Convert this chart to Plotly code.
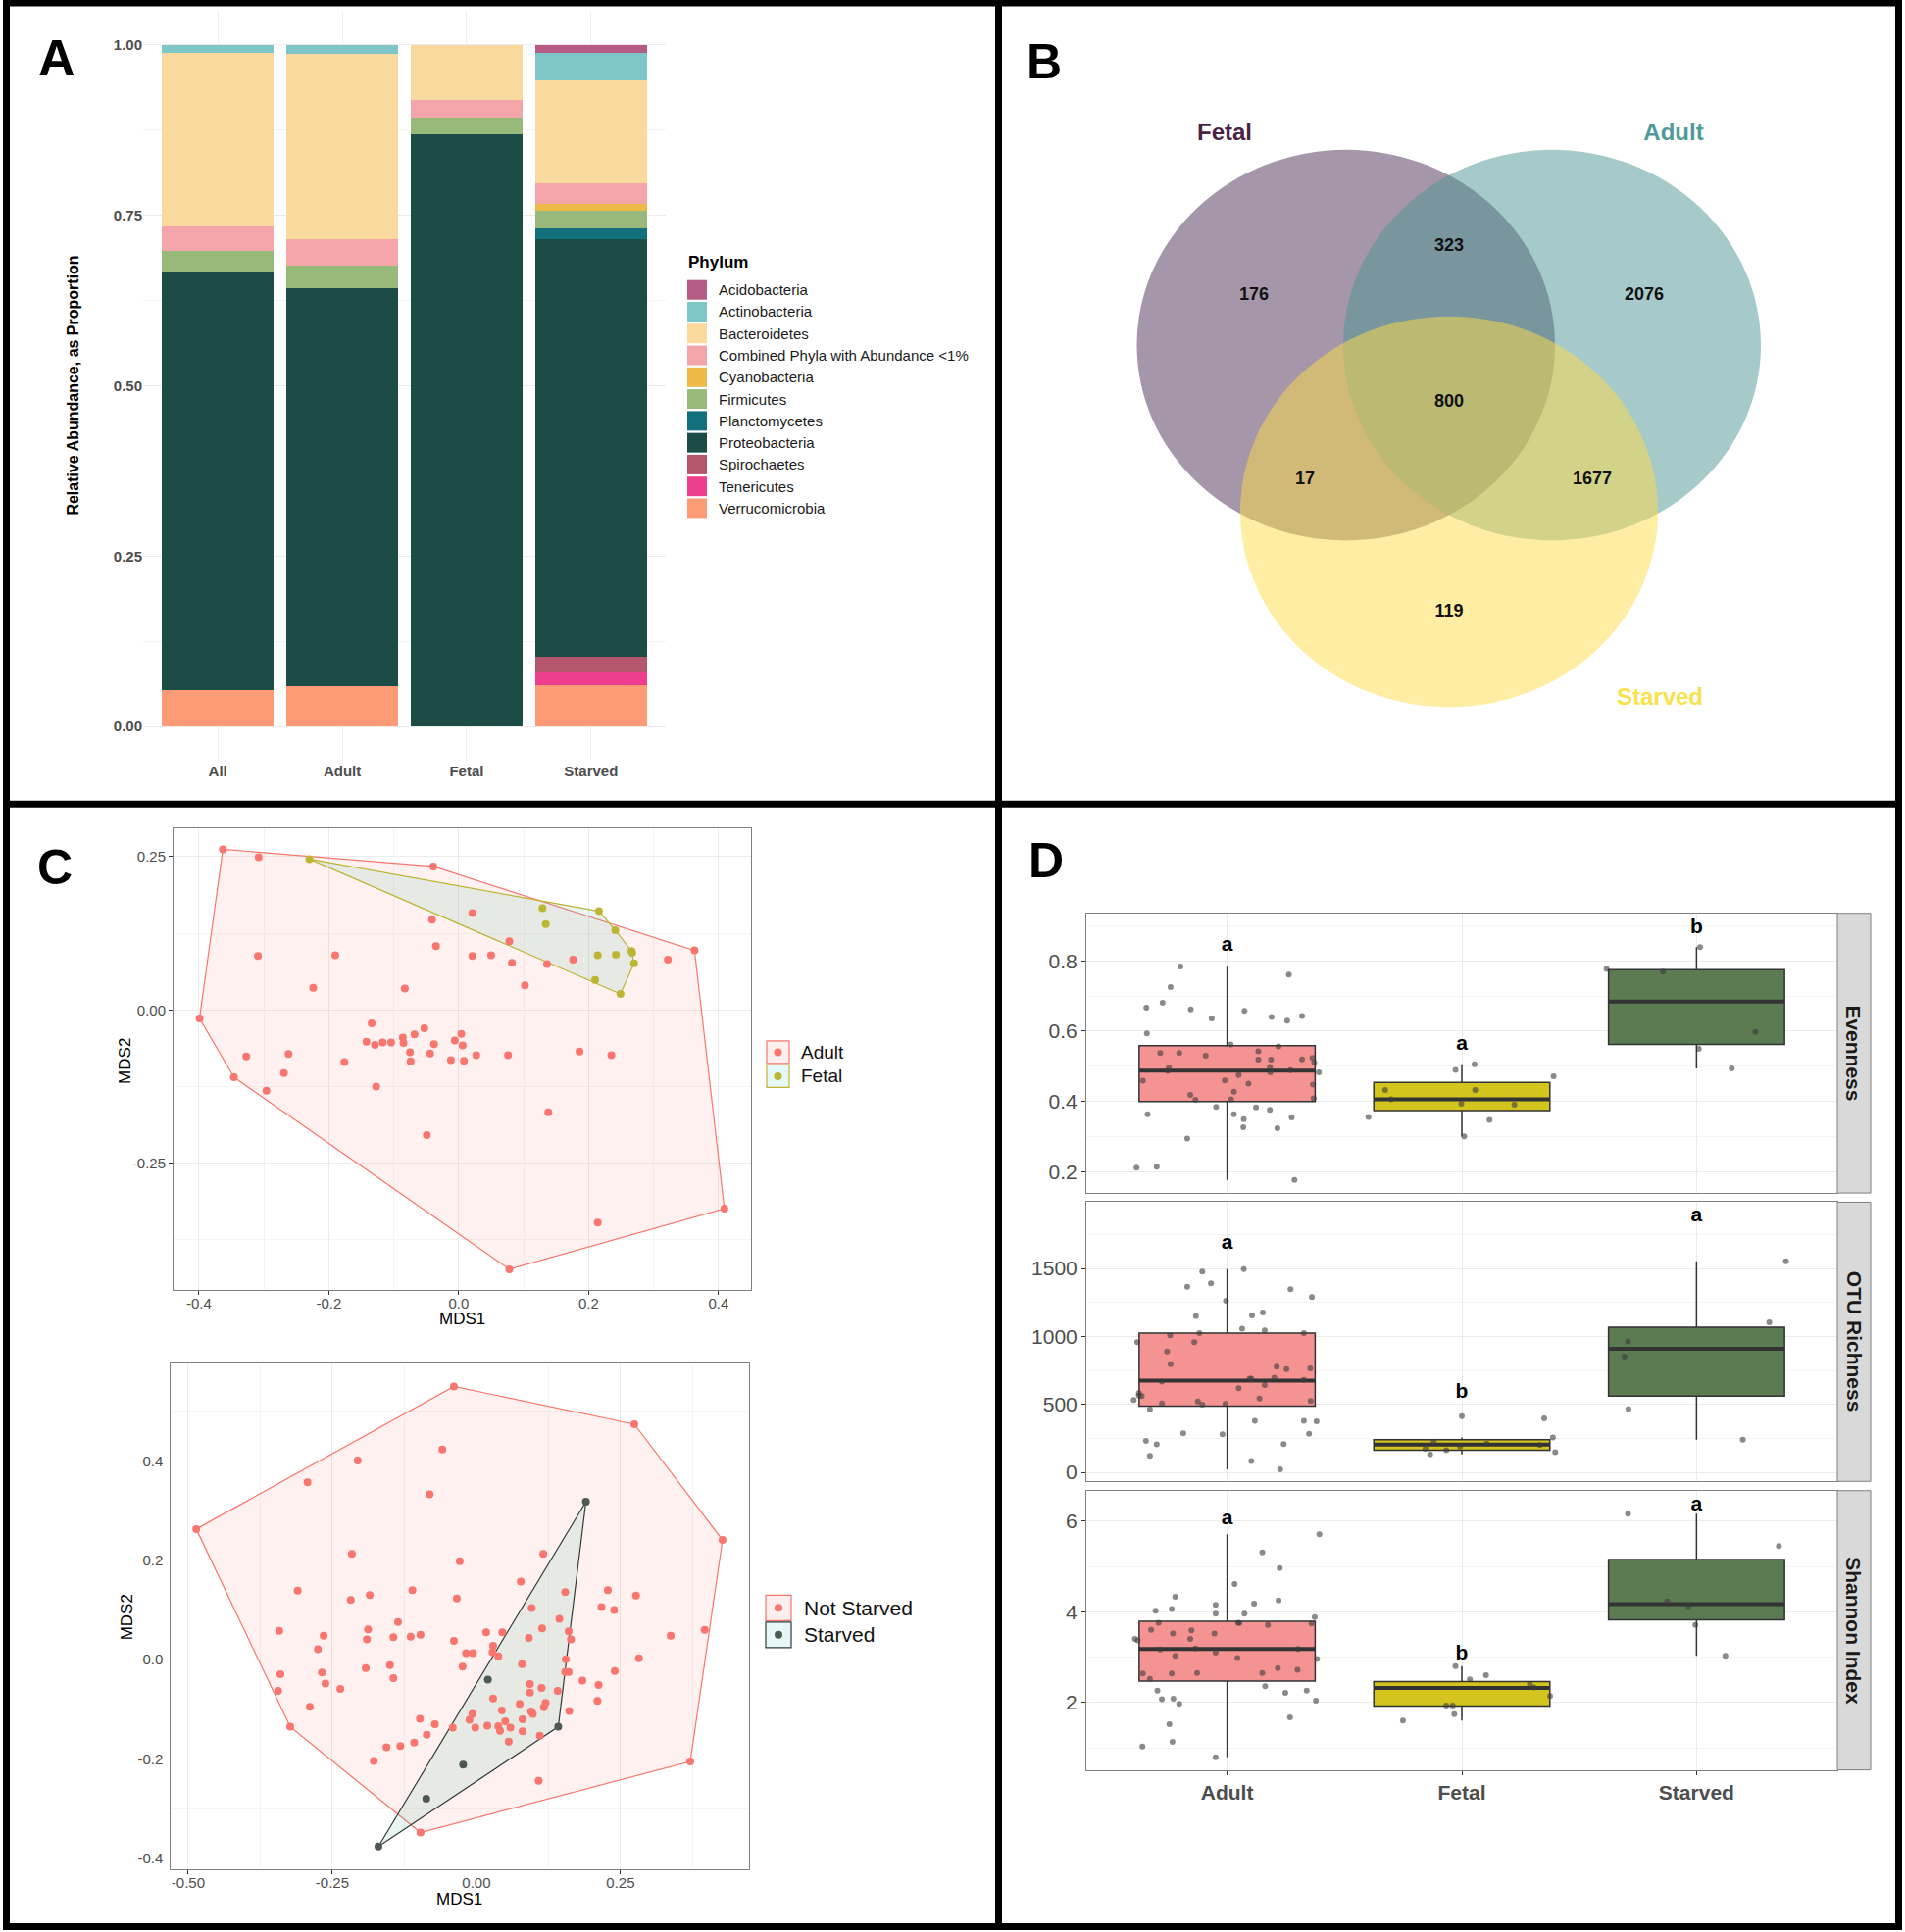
import plotly.graph_objects as go

W, H = 1943, 1971
FONT = "Liberation Sans, Arial, sans-serif"

# ---------------- Panel A: relative abundance by phylum ----------------
groups_a = ["All", "Adult", "Fetal", "Starved"]
phyla = ["Acidobacteria", "Actinobacteria", "Bacteroidetes",
         "Combined Phyla with Abundance <1%", "Cyanobacteria", "Firmicutes",
         "Planctomycetes", "Proteobacteria", "Spirochaetes", "Tenericutes",
         "Verrucomicrobia"]
acidobacteria = [0, 0, 0, 0.012]
actinobacteria = [0.012, 0.013, 0, 0.040]
bacteroidetes = [0.254, 0.272, 0.081, 0.151]
combined_lt1 = [0.036, 0.039, 0.026, 0.030]
cyanobacteria = [0, 0, 0, 0.010]
firmicutes = [0.032, 0.033, 0.024, 0.026]
planctomycetes = [0, 0, 0, 0.016]
proteobacteria = [0.612, 0.583, 0.869, 0.613]
spirochaetes = [0, 0, 0, 0.022]
tenericutes = [0, 0, 0, 0.019]
verrucomicrobia = [0.054, 0.060, 0, 0.061]
phylum_colors = ["#B55B84", "#7FC6C9", "#F9D99E", "#F4A5A9", "#EDBA47", "#97BA7B",
                 "#12707C", "#1B4D46", "#B5566C", "#F03E8E", "#FD9B77"]
abundance = [acidobacteria, actinobacteria, bacteroidetes, combined_lt1, cyanobacteria,
             firmicutes, planctomycetes, proteobacteria, spirochaetes, tenericutes,
             verrucomicrobia]

# ---------------- Panel B: Venn counts ----------------
venn_sets = ["Fetal", "Adult", "Starved"]
venn_set_colors = ["#4A2245", "#4E9A97", "#F8E14C"]
venn_fill = ["#4B2F53", "#4D9595", "#FDDB45"]
venn_counts = [176, 323, 2076, 800, 17, 1677, 119]

# ---------------- Panel C: NMDS ordinations (MDS1, MDS2) ----------------
adult_nmds = [(-0.363, 0.262), (-0.308, 0.249), (-0.039, 0.234), (0.021, 0.158), (-0.041, 0.147),
              (-0.035, 0.104), (0.078, 0.112), (0.363, 0.097), (-0.309, 0.088), (-0.190, 0.089),
              (0.021, 0.088), (0.050, 0.089), (0.082, 0.077), (0.136, 0.075), (0.176, 0.082),
              (0.322, 0.082), (-0.224, 0.036), (-0.083, 0.035), (0.102, 0.040), (-0.399, -0.014),
              (-0.134, -0.022), (-0.053, -0.030), (-0.068, -0.040), (0.004, -0.039), (-0.086, -0.045),
              (-0.142, -0.052), (-0.117, -0.053), (-0.104, -0.053), (-0.129, -0.057), (-0.085, -0.054),
              (-0.006, -0.050), (-0.038, -0.056), (0.006, -0.058), (-0.075, -0.069), (-0.044, -0.071),
              (0.027, -0.074), (0.076, -0.074), (0.186, -0.068), (0.235, -0.074), (-0.327, -0.076),
              (-0.262, -0.072), (-0.176, -0.085), (-0.074, -0.084), (-0.012, -0.082), (0.008, -0.083),
              (-0.269, -0.103), (-0.346, -0.110), (-0.296, -0.132), (-0.127, -0.125), (0.138, -0.167),
              (-0.049, -0.204), (0.409, -0.324), (0.214, -0.347), (0.078, -0.423)]
fetal_nmds = [(-0.230, 0.246), (0.129, 0.166), (0.216, 0.161), (0.134, 0.140), (0.241, 0.130),
              (0.214, 0.089), (0.242, 0.090), (0.266, 0.096), (0.267, 0.093), (0.270, 0.076),
              (0.210, 0.049), (0.249, 0.026)]
not_starved_nmds = [
    (-0.039, 0.550), (0.274, 0.474), (0.427, 0.241), (0.371, -0.205), (-0.097, -0.348),
    (-0.323, -0.135), (-0.486, 0.263), (-0.059, 0.423), (-0.206, 0.401), (-0.293, 0.357),
    (-0.081, 0.333), (-0.216, 0.213), (0.116, 0.213), (-0.029, 0.198), (0.077, 0.157),
    (-0.310, 0.139), (-0.111, 0.140), (0.154, 0.136), (0.228, 0.140), (-0.185, 0.130),
    (-0.218, 0.120), (-0.034, 0.123), (0.277, 0.129), (0.096, 0.104), (0.217, 0.106),
    (0.239, 0.100), (-0.136, 0.076), (0.144, 0.082), (-0.342, 0.058), (-0.188, 0.061),
    (-0.097, 0.050), (0.017, 0.055), (0.045, 0.055), (0.114, 0.063), (0.160, 0.057),
    (0.396, 0.060), (-0.265, 0.048), (-0.190, 0.041), (-0.144, 0.045), (-0.114, 0.046),
    (-0.039, 0.038), (0.091, 0.044), (0.164, 0.041), (0.337, 0.048), (0.029, 0.028),
    (-0.275, 0.021), (-0.018, 0.013), (-0.006, 0.013), (0.028, 0.015), (0.038, 0.007),
    (0.282, 0.003), (0.155, 0.001), (-0.150, -0.011), (-0.024, -0.014), (0.079, -0.009),
    (-0.340, -0.029), (-0.268, -0.026), (-0.192, -0.017), (0.154, -0.025), (0.160, -0.025),
    (0.240, -0.023), (-0.144, -0.037), (-0.262, -0.048), (0.093, -0.049), (0.184, -0.042),
    (0.212, -0.051), (-0.344, -0.063), (-0.236, -0.059), (0.113, -0.057), (0.141, -0.063),
    (0.093, -0.066), (0.029, -0.078), (0.210, -0.083), (0.075, -0.089), (0.120, -0.087),
    (-0.289, -0.095), (0.117, -0.096), (0.044, -0.102), (0.095, -0.104), (0.161, -0.103),
    (0.098, -0.109), (-0.007, -0.109), (-0.012, -0.121), (0.080, -0.120), (-0.098, -0.119),
    (0.050, -0.124), (-0.072, -0.130), (0.019, -0.133), (-0.041, -0.137), (-0.002, -0.137),
    (0.038, -0.134), (0.059, -0.137), (0.041, -0.143), (0.080, -0.144), (-0.086, -0.151),
    (0.110, -0.153), (0.056, -0.165), (-0.108, -0.167), (-0.132, -0.174), (-0.156, -0.176),
    (-0.178, -0.204), (0.108, -0.244)]
starved_nmds = [(0.190, 0.318), (0.142, -0.135), (0.020, -0.040), (-0.023, -0.211),
                (-0.087, -0.280), (-0.170, -0.376)]

# ---------------- Panel D: alpha diversity (jittered x, value) ----------------
groups_d = ["Adult", "Fetal", "Starved"]
box_colors = ["#F49392", "#D3C51D", "#5B7B53"]

evenness_adult = [(0.801, 0.784), (0.759, 0.725), (0.656, 0.667), (0.725, 0.681), (0.845, 0.662),
                  (0.658, 0.594), (0.934, 0.636), (1.074, 0.658), (1.263, 0.761), (1.189, 0.640),
                  (1.256, 0.630), (1.319, 0.643), (1.015, 0.562), (1.219, 0.557), (0.715, 0.538),
                  (0.796, 0.538), (0.909, 0.530), (1.133, 0.543), (1.133, 0.519), (1.187, 0.519),
                  (1.319, 0.520), (1.364, 0.524), (1.371, 0.511), (0.752, 0.497), (0.747, 0.487),
                  (1.182, 0.498), (1.184, 0.483), (1.270, 0.489), (1.391, 0.483), (1.049, 0.475),
                  (0.641, 0.459), (0.990, 0.460), (1.091, 0.451), (1.366, 0.448), (1.029, 0.428),
                  (0.843, 0.419), (0.865, 0.405), (1.017, 0.406), (1.369, 0.409), (0.953, 0.385),
                  (1.123, 0.383), (1.182, 0.376), (0.661, 0.364), (1.029, 0.364), (1.071, 0.350),
                  (1.275, 0.355), (1.069, 0.327), (1.214, 0.324), (0.830, 0.295), (0.614, 0.212),
                  (0.700, 0.215), (1.287, 0.177)]
evenness_fetal = [(2.054, 0.506), (1.973, 0.490), (2.391, 0.472), (1.673, 0.433), (2.057, 0.433),
                  (1.698, 0.406), (1.998, 0.394), (2.224, 0.391), (1.602, 0.356), (2.118, 0.348),
                  (2.010, 0.301)]
evenness_starved = [(3.015, 0.839), (2.617, 0.777), (2.857, 0.769), (3.251, 0.598), (3.010, 0.550),
                    (3.150, 0.494)]

otu_adult = [(1.071, 1496), (0.894, 1477), (0.931, 1391), (0.830, 1366), (1.270, 1347), (1.361, 1289),
             (0.995, 1262), (0.867, 1149), (1.152, 1176), (1.106, 1154), (1.064, 1058), (1.160, 1044),
             (0.882, 1025), (0.757, 1008), (1.327, 1025), (0.617, 959), (0.860, 959), (0.744, 890),
             (0.759, 796), (1.211, 777), (1.253, 760), (1.354, 766), (1.096, 689), (1.103, 689),
             (1.201, 697), (0.722, 667), (1.327, 680), (1.160, 642), (1.049, 620), (0.624, 584),
             (0.624, 565), (0.636, 562), (0.602, 532), (1.138, 543), (0.875, 521), (0.894, 499),
             (0.722, 507), (0.993, 504), (1.356, 526), (0.671, 463), (1.118, 380), (1.327, 380),
             (1.381, 375), (0.813, 287), (0.980, 281), (1.349, 284), (0.654, 231), (0.700, 207),
             (1.241, 209), (0.671, 121), (1.103, 83), (1.226, 22)]
otu_fetal = [(2.000, 413), (2.351, 397), (2.388, 256), (1.880, 226), (2.106, 212), (2.332, 201),
             (1.993, 190), (1.845, 174), (1.934, 163), (2.398, 149), (1.865, 132)]
otu_starved = [(3.381, 1554), (3.310, 1105), (2.708, 964), (2.693, 851), (2.710, 466), (3.197, 240)]

shannon_adult = [(1.393, 5.71), (1.150, 5.31), (1.224, 4.96), (1.032, 4.61), (0.779, 4.33), (1.219, 4.25),
                 (1.115, 4.18), (0.951, 4.15), (0.764, 4.06), (0.695, 4.02), (0.951, 3.96), (1.074, 3.96),
                 (1.373, 3.88), (0.708, 3.76), (1.047, 3.76), (1.052, 3.75), (1.359, 3.74), (1.174, 3.71),
                 (0.676, 3.60), (0.848, 3.59), (0.769, 3.52), (0.946, 3.52), (0.843, 3.40), (0.607, 3.40),
                 (0.619, 3.37), (0.865, 3.19), (0.715, 3.17), (1.302, 3.18), (0.951, 3.10), (0.779, 3.03),
                 (1.044, 2.98), (1.383, 2.96), (1.216, 2.76), (1.300, 2.72), (0.872, 2.65), (1.150, 2.65),
                 (0.764, 2.64), (0.641, 2.64), (0.671, 2.52), (1.162, 2.36), (0.703, 2.26), (1.339, 2.26),
                 (1.248, 2.21), (0.722, 2.07), (0.771, 2.08), (1.378, 2.04), (0.796, 1.97), (1.268, 1.67),
                 (0.754, 1.52), (0.767, 1.13), (0.639, 1.03), (0.951, 0.79)]
shannon_fetal = [(1.973, 2.80), (2.103, 2.60), (2.034, 2.51), (2.290, 2.40), (2.307, 2.33), (2.376, 2.14),
                 (1.934, 1.93), (1.961, 1.93), (1.968, 1.74), (1.749, 1.60)]
shannon_starved = [(2.708, 6.16), (3.351, 5.45), (2.875, 4.23), (2.966, 4.12), (2.995, 3.71),
                   (3.123, 3.03)]

# box statistics per group (Adult, Fetal, Starved): q1, median, q3, lower, upper
evenness_box = [[0.400, 0.374, 0.562], [0.488, 0.406, 0.684], [0.559, 0.454, 0.775],
                [0.177, 0.301, 0.494], [0.783, 0.506, 0.839]]
otu_box = [[488, 163, 562], [675, 204, 909], [1025, 240, 1069], [22, 132, 240], [1496, 256, 1554]]
shannon_box = [[2.47, 1.92, 3.82], [3.18, 2.32, 4.17], [3.79, 2.46, 5.15],
               [0.79, 1.60, 3.03], [5.71, 2.80, 6.16]]
evenness_letters = ["a", "a", "b"]
evenness_letter_y = [0.8435, 0.563, 0.894]
otu_letters = ["a", "b", "a"]
otu_letter_y = [1683, 590, 1882]
shannon_letters = ["a", "b", "a"]
shannon_letter_y = [6.05, 3.07, 6.34]


def fx(px):
    return px / W


def fy(py):
    return 1 - py / H


def hull(points):
    # monotone chain convex hull, returned closed
    pts = sorted(set(points))

    def cross(o, a, b):
        return (a[0] - o[0]) * (b[1] - o[1]) - (a[1] - o[1]) * (b[0] - o[0])
    lower, upper = [], []
    for p in pts:
        while len(lower) >= 2 and cross(lower[-2], lower[-1], p) <= 0:
            lower.pop()
        lower.append(p)
    for p in reversed(pts):
        while len(upper) >= 2 and cross(upper[-2], upper[-1], p) <= 0:
            upper.pop()
        upper.append(p)
    h = lower[:-1] + upper[:-1]
    return h + [h[0]]


fig = go.Figure()
shapes, annotations = [], []


def ann(text, x, y, size, color="#000000", bold=False, angle=0, xanchor="center"):
    annotations.append(dict(text=text, x=fx(x), y=fy(y), xref="paper", yref="paper",
                            showarrow=False, textangle=angle, xanchor=xanchor, yanchor="middle",
                            font=dict(family=FONT, size=size, color=color,
                                      weight="bold" if bold else "normal")))


# ---- A: stacked bars (first trace at the bottom)
for name, vals, col in reversed(list(zip(phyla, abundance, phylum_colors))):
    fig.add_trace(go.Bar(x=groups_a, y=vals, name=name, marker=dict(color=col, line=dict(width=0)),
                         width=0.9, xaxis="x", yaxis="y", showlegend=False))

ann("Relative Abundance, as Proportion", 75, 394, 16, bold=True, angle=-90)
ann("Phylum", 700, 268, 17, bold=True, xanchor="left")
for i, (name, col) in enumerate(zip(phyla, phylum_colors)):
    cy = 296 + i * 22.3
    shapes.append(dict(type="rect", xref="paper", yref="paper", x0=fx(701), x1=fx(721),
                       y0=fy(cy + 10), y1=fy(cy - 10), fillcolor=col, line=dict(width=0)))
    ann(name, 731, cy, 15, color="#1A1A1A", xanchor="left")

# ---- B: Venn diagram (ellipses in pixel units on a hidden axis)
venn_boxes = [(1159.5, 1586, 153, 552), (1370, 1796, 153, 552), (1265, 1691, 323, 722)]
for (x0, x1, y0, y1), col in zip(venn_boxes, venn_fill):
    shapes.append(dict(type="circle", xref="x2", yref="y2", x0=x0, x1=x1, y0=y0, y1=y1,
                       fillcolor=col, opacity=0.5, line=dict(width=0), layer="below"))
count_pos = [(1279, 302), (1478, 252), (1677, 302), (1478, 411), (1331, 490), (1624, 490), (1478, 625)]
fig.add_trace(go.Scatter(x=[p[0] for p in count_pos], y=[p[1] for p in count_pos],
                         text=[str(c) for c in venn_counts], mode="text", xaxis="x2", yaxis="y2",
                         textfont=dict(family=FONT, size=18, color="#111111", weight="bold"),
                         showlegend=False, hoverinfo="skip"))
set_pos = [(1249, 137), (1707, 137), (1693, 714)]
fig.add_trace(go.Scatter(x=[p[0] for p in set_pos], y=[p[1] for p in set_pos], text=venn_sets,
                         mode="text", xaxis="x2", yaxis="y2",
                         textfont=dict(family=FONT, size=24, color=venn_set_colors, weight="bold"),
                         showlegend=False, hoverinfo="skip"))

# ---- C: NMDS hulls and points
c_groups = [
    ("x3", "y3", adult_nmds, "#F8766D", "rgba(248,118,109,0.10)", "#F8766D"),
    ("x3", "y3", fetal_nmds, "#BDB534", "rgba(100,190,170,0.15)", "#BDB534"),
    ("x4", "y4", not_starved_nmds, "#F8766D", "rgba(248,118,109,0.10)", "#F8766D"),
    ("x4", "y4", starved_nmds, "#4C5A52", "rgba(100,190,170,0.15)", "#2F3B35"),
]
for xa, ya, pts, pcol, fcol, lcol in c_groups:
    h = hull(pts)
    fig.add_trace(go.Scatter(x=[p[0] for p in h], y=[p[1] for p in h], mode="lines", fill="toself",
                             fillcolor=fcol, line=dict(color=lcol, width=1.2), xaxis=xa, yaxis=ya,
                             showlegend=False, hoverinfo="skip"))
for xa, ya, pts, pcol, fcol, lcol in c_groups:
    fig.add_trace(go.Scatter(x=[p[0] for p in pts], y=[p[1] for p in pts], mode="markers",
                             marker=dict(color=pcol, size=8, line=dict(width=0)), xaxis=xa, yaxis=ya,
                             showlegend=False))

ann("MDS1", 471, 1347, 17)
ann("MDS2", 128, 1084, 17, angle=-90)
ann("MDS1", 468, 1939, 17)
ann("MDS2", 129, 1652, 17, angle=-90)

c_legend = [("Adult", 1074.5, 782, 805, 815, 19, "#F8766D", "#FDEFEE", "#F8766D"),
            ("Fetal", 1099, 782, 805, 815, 19, "#BDB534", "#E6F7F7", "#BDB534"),
            ("Not Starved", 1642, 781, 807, 818, 21, "#F8766D", "#FDEFEE", "#F8766D"),
            ("Starved", 1669.5, 781, 807, 818, 21, "#4C5A52", "#E6F7F7", "#2F3B35")]
for label, cy, x0, x1, tx, fs, dot, fill, edge in c_legend:
    half = (x1 - x0) / 2
    shapes.append(dict(type="rect", xref="paper", yref="paper", x0=fx(x0), x1=fx(x1),
                       y0=fy(cy + half), y1=fy(cy - half), fillcolor=fill, line=dict(color=edge, width=1.2)))
    cx = (x0 + x1) / 2
    shapes.append(dict(type="circle", xref="paper", yref="paper", x0=fx(cx - 4), x1=fx(cx + 4),
                       y0=fy(cy + 4), y1=fy(cy - 4), fillcolor=dot, line=dict(width=0)))
    ann(label, tx, cy, fs, color="#111111", xanchor="left")

# ---- D: boxplots with jittered points
d_facets = [
    ("x5", "y5", evenness_box, [evenness_adult, evenness_fetal, evenness_starved],
     evenness_letters, evenness_letter_y),
    ("x6", "y6", otu_box, [otu_adult, otu_fetal, otu_starved], otu_letters, otu_letter_y),
    ("x7", "y7", shannon_box, [shannon_adult, shannon_fetal, shannon_starved],
     shannon_letters, shannon_letter_y),
]
for xa, ya, stats, groups_pts, letters, letter_y in d_facets:
    q1, med, q3, lo, hi = stats
    for i in range(3):
        pos = i + 1
        fig.add_trace(go.Box(x=[pos], q1=[q1[i]], median=[med[i]], q3=[q3[i]], lowerfence=[lo[i]],
                             upperfence=[hi[i]], width=0.75, whiskerwidth=0, fillcolor=box_colors[i],
                             line=dict(color="#333333", width=1.5), xaxis=xa, yaxis=ya,
                             showlegend=False, hoverinfo="skip"))
        fig.add_trace(go.Scatter(x=[pos - 0.375, pos + 0.375], y=[med[i], med[i]], mode="lines",
                                 line=dict(color="#333333", width=4), xaxis=xa, yaxis=ya,
                                 showlegend=False, hoverinfo="skip"))
    for pts in groups_pts:
        fig.add_trace(go.Scatter(x=[p[0] for p in pts], y=[p[1] for p in pts], mode="markers",
                                 marker=dict(color="rgba(60,60,60,0.6)", size=6, line=dict(width=0)),
                                 xaxis=xa, yaxis=ya, showlegend=False))
    fig.add_trace(go.Scatter(x=[1, 2, 3], y=letter_y, text=letters, mode="text", xaxis=xa, yaxis=ya,
                             textfont=dict(family=FONT, size=21, color="#000000", weight="bold"),
                             showlegend=False, hoverinfo="skip"))

strip_rows = [("Evenness", 932.7, 1218.3), ("OTU Richness", 1227.7, 1512.8),
              ("Shannon Index", 1522.3, 1807.4)]
for label, top, bot in strip_rows:
    shapes.append(dict(type="rect", xref="paper", yref="paper", x0=fx(1874), x1=fx(1908),
                       y0=fy(bot), y1=fy(top), fillcolor="#D9D9D9", line=dict(color="#7F7F7F", width=1)))
    ann(label, 1891, (top + bot) / 2, 21, color="#1A1A1A", bold=True, angle=90)

# ---- panel letters and thick frames
ann("A", 58, 59, 52, bold=True)
ann("B", 1065, 63, 50, bold=True)
ann("C", 56, 886, 50, bold=True)
ann("D", 1067, 879, 50, bold=True)
for x0, y0, x1, y1 in [(3, 3, 1940, 3), (3, 1967.5, 1940, 1967.5), (6.5, 0, 6.5, 1971),
                       (1936.5, 0, 1936.5, 1971), (1018.5, 0, 1018.5, 1971), (3, 821, 1940, 821)]:
    shapes.append(dict(type="line", xref="paper", yref="paper", x0=fx(x0), x1=fx(x1),
                       y0=fy(y0), y1=fy(y1), line=dict(color="#000000", width=7)))


# ---- axes
def frame_axis(dom, rng, tickvals, ticktext, minor_dtick, minor_tick0, size=15, **kw):
    d = dict(domain=dom, range=rng, tickvals=tickvals, ticktext=ticktext, showline=True,
             mirror=True, linecolor="#7F7F7F", linewidth=1, ticks="outside", ticklen=4,
             tickcolor="#333333", tickfont=dict(family=FONT, size=size, color="#4D4D4D"),
             showgrid=True, gridcolor="#EBEBEB", gridwidth=1, zeroline=False, fixedrange=True)
    if minor_dtick:
        d["minor"] = dict(dtick=minor_dtick, tick0=minor_tick0, showgrid=True,
                          gridcolor="#F4F4F4", gridwidth=1)
    d.update(kw)
    return d


d_x = [1108, 1874]
layout_axes = dict(
    xaxis=dict(domain=[fx(146), fx(679)], range=[-0.6, 3.6], showgrid=True, gridcolor="#EFEFEF",
               zeroline=False, ticks="", fixedrange=True,
               tickfont=dict(family=FONT, size=15, color="#4D4D4D", weight="bold")),
    yaxis=dict(domain=[fy(776.8), fy(11.2)], range=[-0.05, 1.05], tickvals=[0, 0.25, 0.5, 0.75, 1],
               ticktext=["0.00", "0.25", "0.50", "0.75", "1.00"], showgrid=True, gridcolor="#EBEBEB",
               zeroline=False, ticks="", fixedrange=True,
               minor=dict(dtick=0.125, tick0=0, showgrid=True, gridcolor="#F3F3F3"),
               tickfont=dict(family=FONT, size=15, color="#4D4D4D", weight="bold")),
    xaxis2=dict(domain=[fx(1030), fx(1925)], range=[1030, 1925], visible=False, fixedrange=True),
    yaxis2=dict(domain=[fy(810), fy(10)], range=[810, 10], visible=False, fixedrange=True),
    xaxis3=frame_axis([fx(177), fx(766)], [-0.439, 0.450], [-0.4, -0.2, 0, 0.2, 0.4],
                      ["-0.4", "-0.2", "0.0", "0.2", "0.4"], 0.1, 0, ticklabelstandoff=-4),
    yaxis3=frame_axis([fy(1317.5), fy(846)], [-0.457, 0.296], [-0.25, 0, 0.25],
                      ["-0.25", "0.00", "0.25"], 0.125, 0),
    xaxis4=frame_axis([fx(174.3), fx(764)], [-0.530, 0.473], [-0.5, -0.25, 0, 0.25],
                      ["-0.50", "-0.25", "0.00", "0.25"], 0.125, 0, ticklabelstandoff=-4),
    yaxis4=frame_axis([fy(1908.5), fy(1392)], [-0.421, 0.597], [-0.4, -0.2, 0, 0.2, 0.4],
                      ["-0.4", "-0.2", "0.0", "0.2", "0.4"], 0.1, 0),
    xaxis5=frame_axis([fx(d_x[0]), fx(d_x[1])], [0.4, 3.6], [1, 2, 3], groups_d, None, None,
                      showticklabels=False, ticks=""),
    yaxis5=frame_axis([fy(1218.3), fy(932.7)], [0.140, 0.935], [0.2, 0.4, 0.6, 0.8],
                      ["0.2", "0.4", "0.6", "0.8"], 0.1, 0, size=21),
    xaxis6=frame_axis([fx(d_x[0]), fx(d_x[1])], [0.4, 3.6], [1, 2, 3], groups_d, None, None,
                      showticklabels=False, ticks=""),
    yaxis6=frame_axis([fy(1512.8), fy(1227.7)], [-66, 1988], [0, 500, 1000, 1500],
                      ["0", "500", "1000", "1500"], 250, 0, size=21),
    xaxis7=frame_axis([fx(d_x[0]), fx(d_x[1])], [0.4, 3.6], [1, 2, 3], groups_d, None, None,
                      size=21),
    yaxis7=frame_axis([fy(1807.4), fy(1522.3)], [0.514, 6.67], [2, 4, 6], ["2", "4", "6"], 1, 0,
                      size=21),
)
layout_axes["xaxis7"]["tickfont"]["weight"] = "bold"
for k in ["xaxis3", "xaxis4", "xaxis5", "xaxis6", "xaxis7"]:
    layout_axes[k]["anchor"] = "y" + k[-1]
for k in ["yaxis3", "yaxis4", "yaxis5", "yaxis6", "yaxis7"]:
    layout_axes[k]["anchor"] = "x" + k[-1]
layout_axes["xaxis2"]["anchor"] = "y2"
layout_axes["yaxis2"]["anchor"] = "x2"

fig.update_layout(width=W, height=H, autosize=False, margin=dict(l=0, r=0, t=0, b=0),
                  paper_bgcolor="white", plot_bgcolor="white", barmode="stack", boxmode="overlay",
                  showlegend=False, font=dict(family=FONT), shapes=shapes, annotations=annotations,
                  **layout_axes)

# drop the default page margin so the figure fills the window exactly; no modebar
fig.write_html("out.html", config={"displayModeBar": False},
               post_script="document.body.style.margin='0px';")
